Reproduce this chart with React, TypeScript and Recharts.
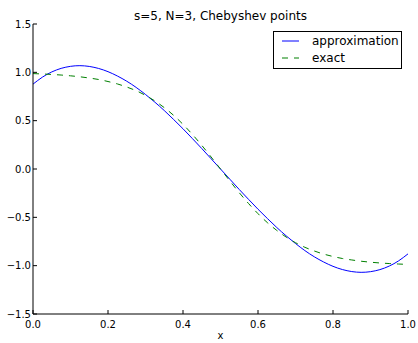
import { LineChart, Line, XAxis, YAxis } from 'recharts'

const xValues = [
  0, 0.025, 0.05, 0.075, 0.1, 0.125, 0.15, 0.175, 0.2, 0.225, 0.25, 0.275, 0.3, 0.325, 0.35, 0.375, 0.4,
  0.425, 0.45, 0.475, 0.5, 0.525, 0.55, 0.575, 0.6, 0.625, 0.65, 0.675, 0.7, 0.725, 0.75, 0.775, 0.8,
  0.825, 0.85, 0.875, 0.9, 0.925, 0.95, 0.975, 1,
]

const approximation = [
  0.878, 0.95, 1.004, 1.041, 1.062, 1.069, 1.061, 1.04, 1.007, 0.962, 0.908, 0.844, 0.771, 0.691, 0.605,
  0.512, 0.416, 0.315, 0.212, 0.106, 0, -0.106, -0.212, -0.315, -0.416, -0.512, -0.605, -0.691, -0.771,
  -0.844, -0.908, -0.962, -1.007, -1.04, -1.061, -1.069, -1.062, -1.041, -1.004, -0.95, -0.878,
]

const exact = [
  0.987, 0.983, 0.978, 0.972, 0.964, 0.954, 0.941, 0.926, 0.905, 0.88, 0.848, 0.81, 0.762, 0.704, 0.635,
  0.555, 0.462, 0.358, 0.245, 0.124, 0, -0.124, -0.245, -0.358, -0.462, -0.555, -0.635, -0.704, -0.762,
  -0.81, -0.848, -0.88, -0.905, -0.926, -0.941, -0.954, -0.964, -0.972, -0.978, -0.983, -0.987,
]

const xTicks = [0, 0.2, 0.4, 0.6, 0.8, 1.0]
const yTicks = [-1.5, -1.0, -0.5, 0.0, 0.5, 1.0, 1.5]

const data = xValues.map((x, i) => ({ x, approximation: approximation[i], exact: exact[i] }))

const FONT = '"DejaVu Sans", sans-serif'
const TICK_LEN = 4

const fmt = (v: number) => v.toFixed(1).replace('-', '\u2212')

function BottomTick({ x, y, payload }: any) {
  return (
    <g>
      <line x1={x} x2={x} y1={y} y2={y - TICK_LEN} stroke="#000" />
      <text x={x} y={y + 14} textAnchor="middle" fontSize={10} fontFamily={FONT} fill="#000">
        {fmt(payload.value)}
      </text>
    </g>
  )
}

function LeftTick({ x, y, payload }: any) {
  return (
    <g>
      <line x1={x} x2={x + TICK_LEN} y1={y} y2={y} stroke="#000" />
      <text x={x - 2} y={y + 3.5} textAnchor="end" fontSize={10} fontFamily={FONT} fill="#000">
        {fmt(payload.value)}
      </text>
    </g>
  )
}

function TopTick({ x, y }: any) {
  return <line x1={x} x2={x} y1={y} y2={y + TICK_LEN} stroke="#000" />
}

function RightTick({ x, y }: any) {
  return <line x1={x} x2={x - TICK_LEN} y1={y} y2={y} stroke="#000" />
}

function LegendBox() {
  return (
    <svg width={130} height={39} style={{ position: 'absolute', left: 273, top: 31 }}>
      <rect x={0.5} y={0.5} width={128} height={37} fill="#fff" stroke="#000" />
      <line x1={9} x2={26} y1={10} y2={10} stroke="#0000ff" />
      <text x={39} y={14} fontSize={12} fontFamily={FONT} fill="#000">approximation</text>
      <line x1={9} x2={26} y1={27} y2={27} stroke="#008000" strokeDasharray="6 6" />
      <text x={39} y={31} fontSize={12} fontFamily={FONT} fill="#000">exact</text>
    </svg>
  )
}

export default function App() {
  return (
    <div style={{ position: 'absolute', left: 0, top: 0, width: 418, height: 343, background: '#fff' }}>
      <div
        style={{
          position: 'absolute',
          left: 33,
          width: 375,
          top: 9,
          textAlign: 'center',
          fontFamily: FONT,
          fontSize: 12,
          lineHeight: '14px',
          color: '#000',
        }}
      >
        s=5, N=3, Chebyshev points
      </div>
      <LineChart width={418} height={343} data={data} margin={{ top: 24, right: 10, left: 0, bottom: 0 }}>
        <XAxis
          dataKey="x"
          type="number"
          domain={[0, 1]}
          ticks={xTicks}
          height={29}
          tickSize={0}
          tickMargin={0}
          tickLine={false}
          axisLine={{ stroke: '#000' }}
          tick={<BottomTick />}
          interval={0}
        />
        <XAxis
          xAxisId="top"
          orientation="top"
          dataKey="x"
          type="number"
          domain={[0, 1]}
          ticks={xTicks}
          height={0}
          tickSize={0}
          tickMargin={0}
          tickLine={false}
          axisLine={{ stroke: '#000' }}
          tick={<TopTick />}
          interval={0}
        />
        <YAxis
          type="number"
          domain={[-1.5, 1.5]}
          ticks={yTicks}
          width={33}
          tickSize={0}
          tickMargin={0}
          tickLine={false}
          axisLine={{ stroke: '#000' }}
          tick={<LeftTick />}
          interval={0}
        />
        <YAxis
          yAxisId="right"
          orientation="right"
          type="number"
          domain={[-1.5, 1.5]}
          ticks={yTicks}
          width={0}
          tickSize={0}
          tickMargin={0}
          tickLine={false}
          axisLine={{ stroke: '#000' }}
          tick={<RightTick />}
          interval={0}
        />
        <Line
          type="natural"
          dataKey="approximation"
          stroke="#0000ff"
          strokeWidth={1}
          dot={false}
          activeDot={false}
          isAnimationActive={false}
        />
        <Line
          type="natural"
          dataKey="exact"
          stroke="#008000"
          strokeWidth={1}
          strokeDasharray="6 6"
          dot={false}
          activeDot={false}
          isAnimationActive={false}
        />
      </LineChart>
      <LegendBox />
      <div
        style={{
          position: 'absolute',
          left: 33,
          width: 375,
          top: 330,
          textAlign: 'center',
          fontFamily: FONT,
          fontSize: 10,
          lineHeight: '12px',
          color: '#000',
        }}
      >
        x
      </div>
    </div>
  )
}
